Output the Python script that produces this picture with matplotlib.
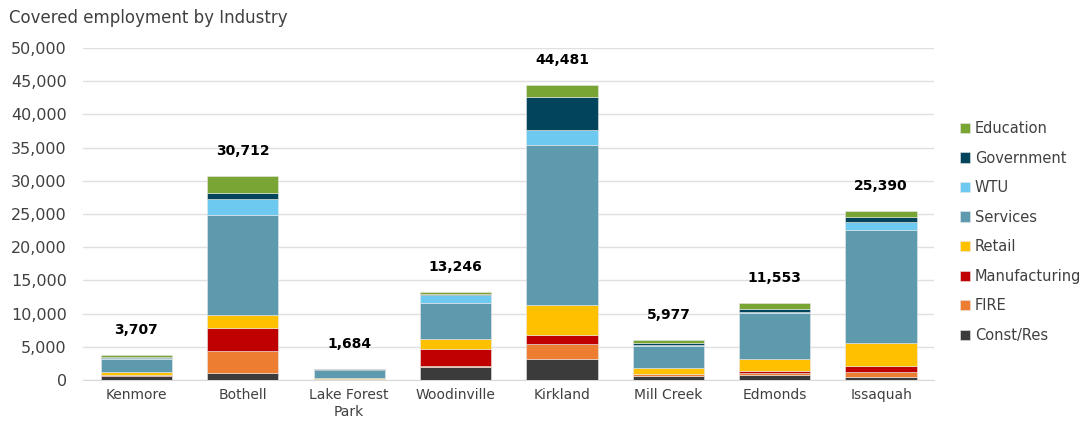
import matplotlib
matplotlib.use('Agg')
import matplotlib.pyplot as plt
import numpy as np

#=================
# DATA
#=================
cities = ["Kenmore", "Bothell", "Lake Forest\nPark", "Woodinville", "Kirkland",
          "Mill Creek", "Edmonds", "Issaquah"]

const_res     = [557, 1100, 64, 1910, 3100, 577, 723, 500]
fire          = [100, 3210, 120, 200, 2300, 300, 300, 660]
manufacturing = [150, 3570, 20, 2610, 1450, 100, 300, 950]
retail        = [350, 1960, 150, 1510, 4370, 800, 1850, 3510]
services      = [1950, 15060, 1150, 5366, 24200, 3400, 6880, 17020]
wtu           = [150, 2300, 40, 1200, 2200, 100, 250, 1200]
government    = [150, 900, 60, 150, 5000, 350, 450, 750]
education     = [300, 2610, 80, 300, 1861, 350, 800, 800]

totals = [3707, 30712, 1684, 13246, 44481, 5977, 11553, 25390]

series = [
    ("Const/Res", const_res, "#3b3b3b"),
    ("FIRE", fire, "#ed7d31"),
    ("Manufacturing", manufacturing, "#c00000"),
    ("Retail", retail, "#ffc000"),
    ("Services", services, "#5e9aae"),
    ("WTU", wtu, "#6dc9f0"),
    ("Government", government, "#02445c"),
    ("Education", education, "#78a534"),
]

#=================
# PLOT
#=================
plt.rcParams['font.family'] = ['DejaVu Sans']

fig = plt.figure(figsize=(10.86, 4.21), dpi=100)
ax = fig.add_axes([0.0767, 0.0974, 0.7836, 0.7886])

x = np.arange(len(cities))
bottom = np.zeros(len(cities))
for name, vals, col in series:
    ax.bar(x, vals, width=0.67, bottom=bottom, color=col, label=name,
           edgecolor="#e8e8e8", linewidth=0.4, zorder=3)
    bottom += np.array(vals)

for xi, top, tot in zip(x, bottom, totals):
    ax.annotate(f"{tot:,}", (xi, top), xytext=(0, 18), textcoords="offset points",
                ha="center", va="center", fontsize=10, fontweight="bold", color="black")

ax.set_xlim(-0.5, len(cities) - 0.5)
ax.set_ylim(0, 50000)
ax.set_yticks(np.arange(0, 50001, 5000))
ax.yaxis.set_major_formatter(matplotlib.ticker.FuncFormatter(lambda v, p: f"{int(v):,}"))
ax.set_xticks(x)
ax.set_xticklabels(cities)
ax.tick_params(axis="y", length=0, labelsize=11.5, labelcolor="#404040", pad=12)
ax.tick_params(axis="x", length=0, labelsize=10, labelcolor="#404040", pad=6)
ax.grid(axis="y", color="#e0e0e0", linewidth=1, zorder=0)
for s in ["top", "right", "left"]:
    ax.spines[s].set_visible(False)
ax.spines["bottom"].set_color("#d9d9d9")

fig.text(0.008, 0.958, "Covered employment by Industry", fontsize=12, color="#404040",
         ha="left", va="center")

h, l = ax.get_legend_handles_labels()
fig.legend(h[::-1], l[::-1], loc="center left", bbox_to_anchor=(0.872, 0.449),
           frameon=False, fontsize=10.5, labelcolor="#404040", handlelength=0.7,
           handleheight=0.7, handletextpad=0.3, labelspacing=1.0)

fig.savefig("out.png", dpi=100)
